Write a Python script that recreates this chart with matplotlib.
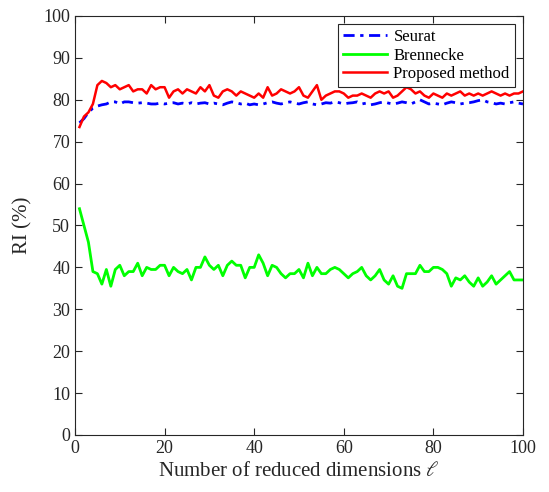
import matplotlib
matplotlib.use('Agg')

import matplotlib.pyplot as plt
import numpy as np

plt.rcParams['font.family'] = ['Liberation Serif', 'DejaVu Serif']
plt.rcParams['mathtext.fontset'] = 'stix'

dims = list(range(1, 101))

seurat = [74.5, 75.5, 77.0, 78.0, 78.5, 78.8, 79.0, 79.5, 79.5, 79.0,
          79.5, 79.5, 79.3, 79.2, 79.3, 79.2, 79.0, 79.0, 79.2, 79.0,
          79.2, 79.3, 79.0, 79.2, 79.0, 79.3, 79.0, 79.2, 79.3, 79.0,
          79.2, 79.0, 78.8, 79.2, 79.5, 79.3, 79.0, 79.2, 78.8, 79.0,
          78.8, 79.0, 79.3, 79.5, 79.2, 79.0, 79.3, 79.5, 79.2, 79.0,
          79.3, 79.5, 79.0, 78.8, 79.0, 79.3, 79.2, 79.5, 79.3, 79.0,
          79.2, 79.3, 79.5, 79.0, 79.2, 78.8, 79.0, 79.3, 79.5, 79.2,
          79.0, 79.2, 79.5, 79.3, 79.0, 79.5, 80.0, 79.5, 79.0, 79.2,
          79.0, 78.8, 79.2, 79.5, 79.3, 79.0, 79.2, 79.3, 79.5, 79.8,
          80.0, 79.5, 79.3, 79.0, 79.2, 79.0, 79.3, 79.5, 79.2, 79.0]

brennecke = [54.0, 50.0, 46.0, 39.0, 38.5, 36.0, 39.5, 35.5, 39.5, 40.5,
             38.0, 39.0, 39.0, 41.0, 38.0, 40.0, 39.5, 39.5, 40.5, 40.5,
             38.0, 40.0, 39.0, 38.5, 39.5, 37.0, 40.0, 40.0, 42.5, 40.5,
             39.5, 40.5, 38.0, 40.5, 41.5, 40.5, 40.5, 37.5, 40.0, 40.0,
             43.0, 41.0, 38.0, 40.5, 40.0, 38.5, 37.5, 38.5, 38.5, 39.5,
             37.5, 41.0, 38.0, 40.0, 38.5, 38.5, 39.5, 40.0, 39.5, 38.5,
             37.5, 38.5, 39.0, 40.0, 38.0, 37.0, 38.0, 39.5, 37.0, 36.0,
             38.0, 35.5, 35.0, 38.5, 38.5, 38.5, 40.5, 39.0, 39.0, 40.0,
             40.0, 39.5, 38.5, 35.5, 37.5, 37.0, 38.0, 36.5, 35.5, 37.5,
             35.5, 36.5, 38.0, 36.0, 37.0, 38.0, 39.0, 37.0, 37.0, 37.0]

proposed = [73.5, 76.0, 77.0, 79.0, 83.5, 84.5, 84.0, 83.0, 83.5, 82.5,
            83.0, 83.5, 82.0, 82.5, 82.5, 81.5, 83.5, 82.5, 83.0, 83.0,
            80.5, 82.0, 82.5, 81.5, 82.5, 82.0, 81.5, 83.0, 82.0, 83.5,
            81.0, 80.5, 82.0, 82.5, 82.0, 81.0, 82.0, 81.5, 81.0, 80.5,
            81.5, 80.5, 83.0, 81.0, 81.5, 82.5, 82.0, 81.5, 82.0, 83.0,
            81.0, 80.5, 82.0, 83.5, 80.0, 81.0, 81.5, 82.0, 82.0, 81.5,
            80.5, 81.0, 81.0, 81.5, 81.0, 80.5, 81.5, 82.0, 81.5, 82.0,
            80.5, 81.0, 82.0, 83.0, 82.5, 81.5, 82.0, 81.0, 80.5, 81.5,
            81.0, 80.5, 81.5, 81.0, 81.5, 82.0, 81.0, 81.5, 81.0, 81.5,
            81.0, 81.5, 82.0, 81.5, 81.0, 81.5, 81.0, 81.5, 81.5, 82.0]

fig = plt.figure(figsize=(5.49, 4.92), dpi=100)
ax = fig.add_axes([0.1366, 0.1159, 0.816, 0.8516])

ax.plot(dims, seurat, color='#0000FF', linestyle=(0, (4, 2, 1.2, 2)), linewidth=2, label='Seurat')
ax.plot(dims, brennecke, color='#00FF00', linestyle='-', linewidth=2, label='Brennecke')
ax.plot(dims, proposed, color='#FF0000', linestyle='-', linewidth=1.8, label='Proposed method')

ax.set_xlim(0, 100)
ax.set_ylim(0, 100)
ax.set_xticks(np.arange(0, 101, 20))
ax.set_yticks(np.arange(0, 101, 10))
ax.tick_params(direction='in', top=True, right=True, labelsize=13,
               color='#262626', length=5, width=0.8, labelcolor='#262626')
for sp in ax.spines.values():
    sp.set_color('#262626')
    sp.set_linewidth(0.8)

ax.set_xlabel(r'Number of reduced dimensions $\ell$', fontsize=15, color='#262626', labelpad=4)
ax.set_ylabel('RI (%)', fontsize=15, color='#262626', labelpad=8)

leg = ax.legend(loc='upper right', fontsize=12, frameon=True, fancybox=False,
                framealpha=1, edgecolor='#262626', handlelength=2.6,
                labelspacing=0.15, borderpad=0.3, handletextpad=0.4,
                borderaxespad=0.5)
leg.get_frame().set_linewidth(0.8)

fig.savefig('out.png', dpi=100)
